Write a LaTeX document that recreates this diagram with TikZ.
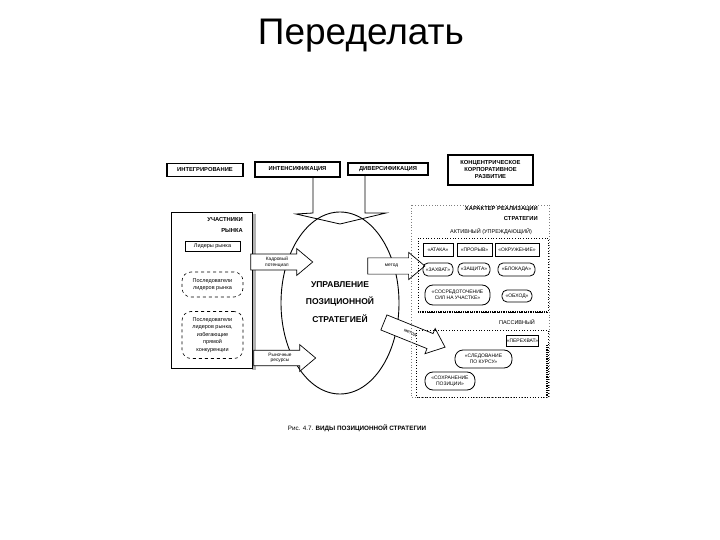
\documentclass[tikz,border=0pt]{standalone}
\usepackage{fontspec}
\setmainfont{Liberation Sans}
\usetikzlibrary{shapes.arrows,shapes.geometric}
\begin{document}
\begin{tikzpicture}[x=1pt,y=-1pt,
  topbox/.style={draw, line width=1.1pt, inner sep=1pt, align=center,
    font=\bfseries\fontsize{5.8}{7}\selectfont},
  smallbox/.style={draw, line width=0.6pt, inner sep=0.5pt, align=center,
    font=\fontsize{5}{6}\selectfont},
  oval/.style={draw, line width=0.8pt, rounded corners=5pt, inner sep=0.5pt,
    align=center, font=\fontsize{5}{6.2}\selectfont},
  follower/.style={draw, dashed, line width=0.6pt, rounded corners=9pt,
    inner sep=0.5pt, align=center, font=\fontsize{5.5}{7.6}\selectfont},
  blockarrow/.style={draw, line width=0.7pt, single arrow, fill=white,
    single arrow head extend=5.5pt, single arrow tip angle=80, inner xsep=2pt,
    align=center, font=\fontsize{4.8}{5.6}\selectfont},
  paneltext/.style={inner sep=0pt, font=\bfseries\fontsize{5.8}{7}\selectfont},
  lighttext/.style={inner sep=0pt, font=\fontsize{5.5}{7}\selectfont}
]
\useasboundingbox (0,0) rectangle (720,540);

% title
\node[anchor=base, inner sep=0pt, font=\fontsize{37}{40}\selectfont] (title) at (361,45) {Переделать};

% top boxes
\node[topbox, minimum width=76, minimum height=13] (integ) at (205,170) {ИНТЕГРИРОВАНИЕ};
\node[topbox, minimum width=85, minimum height=15] (intens) at (297.5,169.5) {ИНТЕНСИФИКАЦИЯ};
\node[topbox, minimum width=80, minimum height=12] (divers) at (388,169) {ДИВЕРСИФИКАЦИЯ};
\node[topbox, minimum width=85, minimum height=30] (conc) at (490.5,170) {КОНЦЕНТРИЧЕСКОЕ\\КОРПОРАТИВНОЕ\\РАЗВИТИЕ};

% central ellipse
\node[draw, ellipse, line width=0.9pt, minimum width=118, minimum height=182] (ell) at (340,303) {};
\node[inner sep=0pt, align=center, font=\bfseries\fontsize{8.5}{17.5}\selectfont] (elltext) at (340,302) {УПРАВЛЕНИЕ\\ПОЗИЦИОННОЙ\\СТРАТЕГИЕЙ};

% big arrow from top boxes into the ellipse
\coordinate (cl) at (313,0);
\coordinate (cr) at (365,0);
\coordinate (tip) at (340,224);
\draw[line width=0.8pt] (intens.south -| cl) -- (313,213) -- (296,214) -- (tip) -- (386,213) -- (365,213) -- (divers.south -| cr);

% left panel
\fill[gray!60] (252,214) rectangle (256,370);
\node[draw, fill=white, line width=0.8pt, minimum width=81, minimum height=156] (left) at (211.5,290) {};
\node[paneltext, anchor=east] (uch) at (243,220) {УЧАСТНИКИ};
\node[paneltext, anchor=east] (ryn) at (243,231) {РЫНКА};
\node[smallbox, minimum width=55, minimum height=10, font=\fontsize{5.5}{6.5}\selectfont] (lead) at (212.5,246.5) {Лидеры рынка};
\node[follower, minimum width=61, minimum height=25] (fol1) at (212.5,284.5) {Последователи\\лидеров рынка};
\node[follower, minimum width=61, minimum height=47] (fol2) at (212.5,335) {Последователи\\лидеров рынка,\\избегающие\\прямой\\конкуренции};

% block arrows left -> ellipse
\node[blockarrow, inner ysep=2.5pt, minimum height=62] (kadr) at (277,262) {Кадровый\\потенциал};
\node[blockarrow, inner ysep=2.5pt, minimum height=62] (res) at (280,358) {Рыночные\\ресурсы};

% block arrows ellipse -> right
\node[blockarrow, inner ysep=6pt, minimum height=57] (met1) at (391.5,266) {метод};
\node[blockarrow, inner ysep=6pt, minimum height=66, rotate=-22] (met2) at (410,333) {метод};

% right panel
\draw[gray, dotted, line width=0.8pt] (411,205) rectangle (549,397);
\node[paneltext, anchor=east] (har) at (538,209) {ХАРАКТЕР РЕАЛИЗАЦИИ};
\node[paneltext, anchor=east] (str) at (538,218.5) {СТРАТЕГИИ};
\node[lighttext] (act) at (491,232) {АКТИВНЫЙ (УПРЕЖДАЮЩИЙ)};
\draw[dotted, line width=0.7pt] (418,238) rectangle (548,312);
\draw[line width=2.5pt, dash pattern=on 1pt off 0.8pt] (418,312) -- (546,312);

\node[smallbox, line width=0.9pt, minimum width=30, minimum height=13] (atk) at (438,249.5) {«АТАКА»};
\node[smallbox, line width=0.9pt, minimum width=35, minimum height=13] (pro) at (474.5,249.5) {«ПРОРЫВ»};
\node[smallbox, line width=0.9pt, minimum width=44, minimum height=13] (okr) at (517,249.5) {«ОКРУЖЕНИЕ»};

\node[oval, minimum width=30, minimum height=13] (zah) at (438,269.5) {«ЗАХВАТ»};
\node[oval, minimum width=32, minimum height=13] (zas) at (474,269.5) {«ЗАЩИТА»};
\node[oval, minimum width=37, minimum height=13] (blk) at (516.5,269.5) {«БЛОКАДА»};

\node[oval, rounded corners=8pt, minimum width=65, minimum height=20] (sos) at (457.5,295) {«СОСРЕДОТОЧЕНИЕ\\СИЛ НА УЧАСТКЕ»};
\node[oval, minimum width=30, minimum height=12] (obh) at (517,296) {«ОБХОД»};

\node[lighttext] (pas) at (517,322) {ПАССИВНЫЙ};
\draw[dotted, line width=0.7pt] (416,330) rectangle (548,397);
\draw[line width=2.2pt, dash pattern=on 1pt off 0.8pt] (547,345) -- (547,397);
\node[smallbox, line width=0.9pt, minimum width=31, minimum height=11] (per) at (522.5,341) {«ПЕРЕХВАТ»};
\node[oval, rounded corners=8pt, minimum width=57, minimum height=18] (sled) at (483.5,359) {«СЛЕДОВАНИЕ\\ПО КУРСУ»};
\node[oval, rounded corners=8pt, minimum width=50, minimum height=18] (sohr) at (450,381) {«СОХРАНЕНИЕ\\ПОЗИЦИИ»};

% caption
\node[inner sep=0pt, font=\fontsize{6.3}{7}\selectfont] (cap) at (357,428) {Рис. 4.7. \textbf{ВИДЫ ПОЗИЦИОННОЙ СТРАТЕГИИ}};
\end{tikzpicture}
\end{document}
